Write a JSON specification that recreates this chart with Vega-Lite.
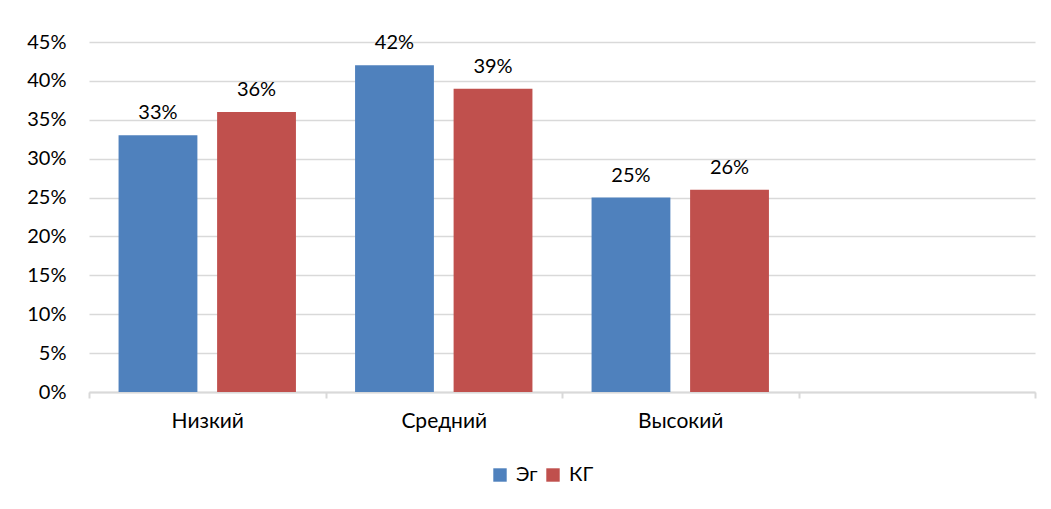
{
  "$schema": "https://vega.github.io/schema/vega-lite/v6.json",
  "width": 946,
  "height": 350,
  "autosize": "none",
  "padding": {"left": 89, "top": 42, "right": 16, "bottom": 117},
  "background": "white",
  "config": {
    "view": {"stroke": null},
    "font": "Lato",
    "axis": {"labelFont": "Lato", "labelFontSize": 20, "labelColor": "#000000"},
    "legend": {"labelFont": "Lato", "labelFontSize": 20, "labelColor": "#000000"}
  },
  "data": {
    "values": [
      {"cat": "Низкий", "group": "Эг", "value": 0.33},
      {"cat": "Низкий", "group": "КГ", "value": 0.36},
      {"cat": "Средний", "group": "Эг", "value": 0.42},
      {"cat": "Средний", "group": "КГ", "value": 0.39},
      {"cat": "Высокий", "group": "Эг", "value": 0.25},
      {"cat": "Высокий", "group": "КГ", "value": 0.26}
    ]
  },
  "encoding": {
    "x": {
      "field": "cat",
      "type": "nominal",
      "scale": {"domain": ["Низкий", "Средний", "Высокий", " "], "paddingInner": 0, "paddingOuter": 0},
      "axis": {
        "title": null,
        "labelAngle": 0,
        "tickBand": "extent",
        "domainColor": "#D9D9D9",
        "domainWidth": 2,
        "tickColor": "#D9D9D9",
        "tickWidth": 2,
        "tickSize": 6,
        "labelPadding": 12,
        "labelFontSize": 21,
        "grid": false
      }
    },
    "xOffset": {
      "field": "group",
      "type": "nominal",
      "scale": {"domain": ["Эг", "КГ"], "paddingInner": 0.2, "paddingOuter": 0.3}
    },
    "y": {
      "field": "value",
      "type": "quantitative",
      "scale": {"domain": [0, 0.45], "nice": false},
      "axis": {
        "title": null,
        "format": ".0%",
        "values": [0, 0.05, 0.1, 0.15, 0.2, 0.25, 0.3, 0.35, 0.4, 0.45],
        "domain": false,
        "ticks": false,
        "labelPadding": 23,
        "gridColor": "#D9D9D9",
        "gridWidth": 1.5
      }
    }
  },
  "layer": [
    {
      "mark": {"type": "bar"},
      "encoding": {
        "color": {
          "field": "group",
          "type": "nominal",
          "scale": {"domain": ["Эг", "КГ"], "range": ["#4F81BD", "#C0504D"]},
          "legend": {
            "title": null,
            "orient": "none",
            "legendX": 401,
            "legendY": 423,
            "direction": "horizontal",
            "symbolType": "square",
            "symbolSize": 180,
            "symbolStrokeWidth": 0,
            "labelOffset": 6,
            "columnPadding": 5,
            "padding": 0
          }
        }
      }
    },
    {
      "mark": {"type": "text", "baseline": "bottom", "dy": -12, "fontSize": 20, "color": "#000000"},
      "encoding": {
        "text": {"field": "value", "type": "quantitative", "format": ".0%"}
      }
    }
  ]
}
